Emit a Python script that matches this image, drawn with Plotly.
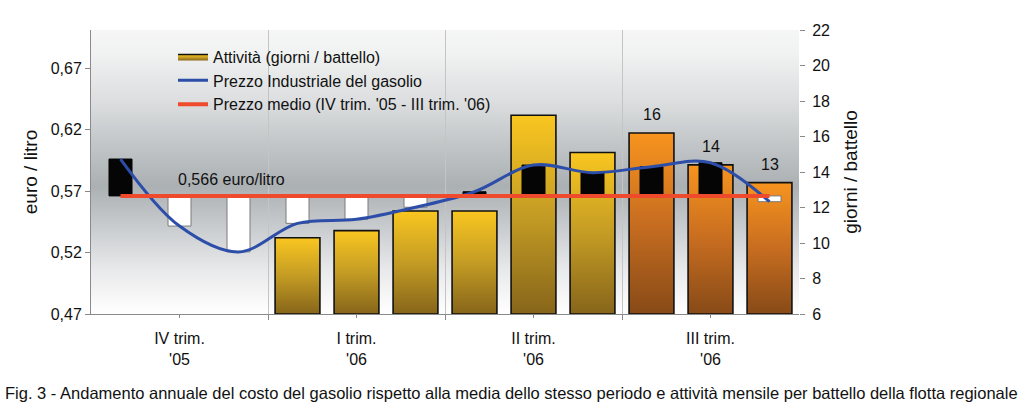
import base64
import plotly.graph_objects as go

# ---------------- data ----------------
months = list(range(12))  # Oct '05 ... Sep '06
quarter_pos = [1, 4, 7, 10]
quarter_labels = ["IV trim.<br>'05", "I trim.<br>'06", "II trim.<br>'06", "III trim.<br>'06"]
quarter_bounds = [2.5, 5.5, 8.5]

price = [0.596, 0.5415, 0.5205, 0.5437, 0.547, 0.5568, 0.5694, 0.5911, 0.5849, 0.5898, 0.593, 0.5613]
mean_price = 0.566

activity_months = [3, 4, 5, 6, 7, 8, 9, 10, 11]
activity = [10.3, 10.7, 11.8, 11.8, 17.2, 15.1, 16.2, 14.4, 13.4]
activity_group = ["gold", "gold", "gold", "gold", "gold", "gold", "orange", "orange", "orange"]

label_months = [9, 10, 11]
label_values = ["16", "14", "13"]

left_ticks = [0.47, 0.52, 0.57, 0.62, 0.67]
left_range = [0.47, 0.7009]
right_range = [6, 22]

# ---------------- styles ----------------
FONT = 'Arial, "Liberation Sans", sans-serif'
GRADIENTS = {
    "gold": [[0, "#86651a"], [0.5, "#c49c24"], [1, "#f9c620"]],
    "orange": [[0, "#874a17"], [0.5, "#c76d20"], [1, "#f7941e"]],
}
ACT_W = 0.76
DIFF_W = 0.39

fig = go.Figure()

# activity bars (gradient-filled) on the right axis
first = True
for m, v, g in zip(activity_months, activity, activity_group):
    x0, x1 = m - ACT_W / 2, m + ACT_W / 2
    base = right_range[0]
    fig.add_trace(go.Scatter(
        x=[x0, x0, x1, x1, x0], y=[base, v, v, base, base],
        mode="lines", fill="toself",
        fillgradient=dict(type="vertical", colorscale=GRADIENTS[g], start=base, stop=v),
        fillcolor="#e0b020",
        line=dict(color="#111111", width=1.6),
        name="Attività (giorni / battello)", legendgroup="act",
        showlegend=first, hoverinfo="skip", yaxis="y",
    ))
    first = False

# price deviation bars on the left axis
diff = [p - mean_price for p in price]
fig.add_trace(go.Bar(
    x=months, y=diff, base=mean_price, width=DIFF_W,
    marker=dict(color=["#050505" if d > 0 else "#ffffff" for d in diff],
                line=dict(color=["#050505" if d > 0 else "#7a7a7a" for d in diff], width=1)),
    showlegend=False, yaxis="y2", hoverinfo="skip",
))

fig.add_trace(go.Scatter(
    x=months, y=price, mode="lines", line=dict(color="#2d4ea8", width=3, shape="spline", smoothing=1),
    name="Prezzo Industriale del gasolio", yaxis="y2", hoverinfo="skip",
))
fig.add_trace(go.Scatter(
    x=months, y=[mean_price] * len(months), mode="lines", line=dict(color="#ef4a2c", width=4),
    name="Prezzo medio (IV trim. '05 - III trim. '06)", yaxis="y2", hoverinfo="skip",
))

# background gradient image
svg = ('<svg xmlns="http://www.w3.org/2000/svg" width="100" height="284" viewBox="0 0 100 284" '
       'preserveAspectRatio="none"><defs><linearGradient id="g" x1="0" y1="0" x2="0" y2="1">'
       '<stop offset="0" stop-color="#f6f6f6"/>'
       '<stop offset="0.08" stop-color="#f1f2f2"/>'
       '<stop offset="0.25" stop-color="#dcdedf"/>'
       '<stop offset="0.42" stop-color="#bfc3c5"/>'
       '<stop offset="0.55" stop-color="#abb0b3"/>'
       '<stop offset="0.70" stop-color="#cacdd0"/>'
       '<stop offset="0.85" stop-color="#e9eaeb"/>'
       '<stop offset="0.96" stop-color="#fafafa"/>'
       '<stop offset="1" stop-color="#ffffff"/>'
       '</linearGradient></defs><rect x="0" y="0" width="100" height="284" fill="url(#g)"/></svg>')
src = "data:image/svg+xml;base64," + base64.b64encode(svg.encode()).decode()
fig.add_layout_image(dict(source=src, xref="paper", yref="paper", x=0, y=1, sizex=1, sizey=1,
                          xanchor="left", yanchor="top", sizing="stretch", layer="below"))

annotations = []
for m, t in zip(label_months, label_values):
    annotations.append(dict(x=m, y=activity[activity_months.index(m)], xref="x", yref="y", text=t,
                            showarrow=False, yanchor="middle", yshift=18, font=dict(size=16)))
annotations.append(dict(x=0.12, y=0.472, xref="paper", yref="paper",
                        text=f"{mean_price:.3f}".replace(".", ",") + " euro/litro",
                        showarrow=False, xanchor="left", yanchor="middle", font=dict(size=16)))
annotations.append(dict(x=0.5946, y=-0.278, xref="paper", yref="paper",
                        text="Fig. 3 - Andamento annuale del costo del gasolio rispetto alla media dello stesso periodo e attività mensile per battello della flotta regionale",
                        showarrow=False, xanchor="center", yanchor="middle", font=dict(size=16.5)))

fig.update_layout(
    width=1023, height=415,
    margin=dict(l=91, r=224, t=30, b=101),
    paper_bgcolor="white", plot_bgcolor="white",
    font=dict(family=FONT, size=16, color="#111111"),
    separators=", ",
    legend=dict(x=0.1158, y=0.966, xanchor="left", yanchor="top", bgcolor="rgba(0,0,0,0)",
                font=dict(size=16), itemwidth=30, tracegroupgap=0),
    annotations=annotations,
    xaxis=dict(range=[-0.5, 11.5], tickmode="array", tickvals=quarter_pos, ticktext=quarter_labels,
               ticks="outside", ticklen=3, tickcolor="#888888", showline=True, linecolor="#8a8a8a",
               showgrid=False, zeroline=False, ticklabelstandoff=7,
               minor=dict(tickmode="array", tickvals=quarter_bounds, ticks="outside", ticklen=5,
                          tickcolor="#888888", showgrid=True, gridcolor="#c4c4c4", gridwidth=1)),
    yaxis=dict(side="right", range=right_range, tick0=6, dtick=2, ticks="outside", ticklen=5,
               tickcolor="#888888", showline=False, showgrid=False, zeroline=False,
               ticklabelstandoff=4,
               title=dict(text="giorni / battello", standoff=14)),
    yaxis2=dict(overlaying="y", side="left", range=left_range, tickmode="array", tickvals=left_ticks,
                tickformat=".2f", ticks="outside", ticklen=5, tickcolor="#888888", showline=True,
                linecolor="#8a8a8a", showgrid=False, zeroline=False,
                title=dict(text="euro / litro", standoff=8)),
)

fig.write_html("out.html", config={"displayModeBar": False},
               post_script="document.body.style.margin='0';")
